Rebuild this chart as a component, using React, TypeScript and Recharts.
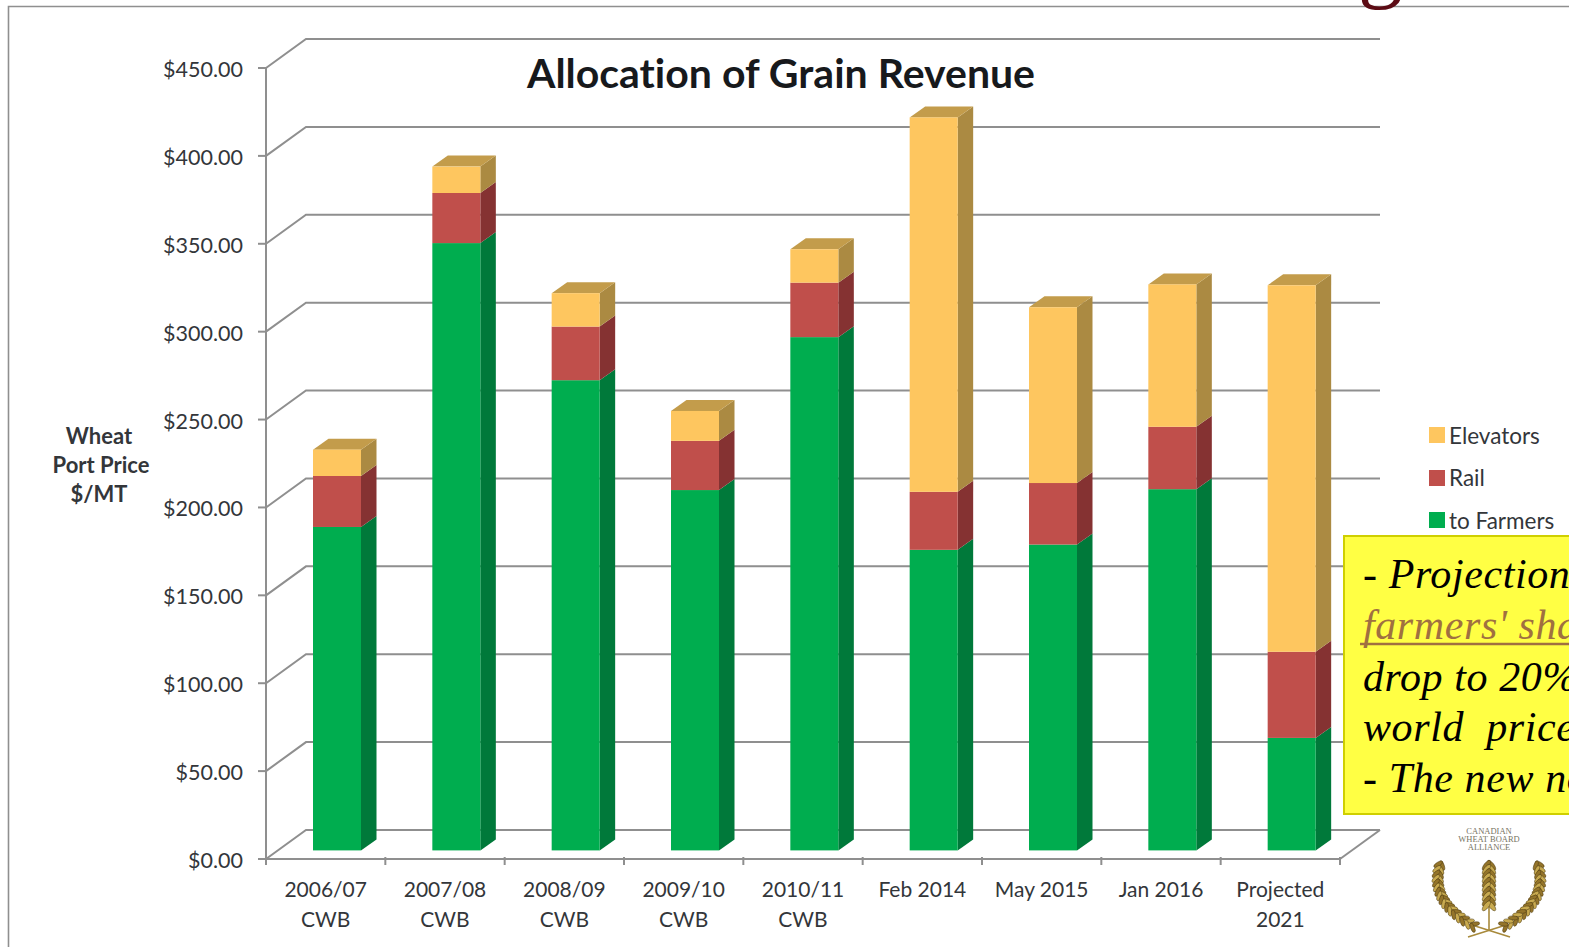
import React from "react";
import { BarChart, Bar, XAxis, YAxis, CartesianGrid, Legend } from "recharts";

// Allocation of wheat port price, dollars per tonne
const periods = [
  "2006/07|CWB",
  "2007/08|CWB",
  "2008/09|CWB",
  "2009/10|CWB",
  "2010/11|CWB",
  "Feb 2014",
  "May 2015",
  "Jan 2016",
  "Projected|2021",
];
const toFarmers = [184, 345.5, 267.5, 205, 292, 171, 174, 205.5, 64];
const rail = [29, 28.5, 30.5, 28, 31, 33, 35, 35.5, 49];
const elevators = [15, 15, 19, 17, 19, 213, 100, 81, 208.5];
const yTicks = [0, 50, 100, 150, 200, 250, 300, 350, 400, 450];

const rows = periods.map((period, i) => ({
  period,
  toFarmers: toFarmers[i],
  rail: rail[i],
  elevators: elevators[i],
}));

const WIDTH = 1569;
const HEIGHT = 947;
const PLOT_LEFT = 266;
const PLOT_RIGHT = 1340;
const WALL_DX = 40;
const WALL_DY = 29;
const BAR_SHIFT_X = 11;
const BAR_SHIFT_Y = 8.6;
const BAR_DEPTH_X = 15.5;
const BAR_DEPTH_Y = 11;
const FONT = "Lato, 'Noto Sans', sans-serif";
const AXIS_COLOR = "#8f8f8f";
const TEXT_COLOR = "#33363a";

type Face = { front: string; side: string; top?: string };

const greenFace: Face = { front: "#00ad4f", side: "#00793a" };
const redFace: Face = { front: "#c04f4b", side: "#853232" };
const yellowFace: Face = { front: "#fec65f", side: "#ab8a42", top: "#c39c4b" };

// Front face plus the extruded side, and a lid on the top segment
const makeBlock = (face: Face) => (props: any) => {
  const { x, y, width, height } = props;
  const l = x + BAR_SHIFT_X;
  const r = l + width;
  const t = y - BAR_SHIFT_Y;
  const b = t + height;
  const dx = BAR_DEPTH_X;
  const dy = BAR_DEPTH_Y;
  return (
    <g>
      <polygon
        points={`${r},${t} ${r + dx},${t - dy} ${r + dx},${b - dy} ${r},${b}`}
        fill={face.side}
      />
      {face.top && (
        <polygon
          points={`${l},${t} ${l + dx},${t - dy} ${r + dx},${t - dy} ${r},${t}`}
          fill={face.top}
        />
      )}
      <rect x={l} y={t} width={width} height={height} fill={face.front} />
    </g>
  );
};

// Gridline folded back along the side wall and across the rear wall
const wallLine = (props: any) => {
  const { x1, x2, y1, key } = props;
  const atFloor = Math.abs(y1 - (HEIGHT - 88)) < 1;
  return (
    <g key={key}>
      <path
        d={`M${x1},${y1} L${x1 + WALL_DX},${y1 - WALL_DY} L${x2 + WALL_DX},${y1 - WALL_DY}`}
        fill="none"
        stroke={AXIS_COLOR}
        strokeWidth={2}
      />
      {atFloor && (
        <path
          d={`M${x2},${y1} L${x2 + WALL_DX},${y1 - WALL_DY}`}
          fill="none"
          stroke={AXIS_COLOR}
          strokeWidth={2}
        />
      )}
    </g>
  );
};

const PeriodTick = (props: any) => {
  const { x, y, payload } = props;
  const band = (PLOT_RIGHT - PLOT_LEFT) / periods.length;
  const lines = String(payload.value).split("|");
  const isLast = payload.index === periods.length - 1;
  return (
    <g>
      <line x1={x - band / 2} x2={x - band / 2} y1={y - 8} y2={y} stroke={AXIS_COLOR} strokeWidth={2} />
      {isLast && (
        <line x1={x + band / 2} x2={x + band / 2} y1={y - 8} y2={y} stroke={AXIS_COLOR} strokeWidth={2} />
      )}
      {lines.map((line, i) => (
        <text
          key={line}
          x={x}
          y={y + 32 + i * 29.5}
          textAnchor="middle"
          fontFamily={FONT}
          fontSize={21}
          fill={TEXT_COLOR}
        >
          {line}
        </text>
      ))}
    </g>
  );
};

const PriceTick = (props: any) => {
  const { x, y, payload } = props;
  return (
    <text
      x={x}
      y={y + 9}
      textAnchor="end"
      fontFamily={FONT}
      fontSize={21.5}
      fill={TEXT_COLOR}
    >
      {`$${Number(payload.value).toFixed(2)}`}
    </text>
  );
};

const SeriesKey = (props: any) => {
  const entries = [...(props.payload ?? [])];
  return (
    <div>
      {entries.map((entry: any) => (
        <div
          key={entry.value}
          style={{
            display: "flex",
            alignItems: "center",
            height: 42.5,
            fontFamily: FONT,
            fontSize: 22.5,
            color: TEXT_COLOR,
          }}
        >
          <span style={{ width: 16, height: 16, marginRight: 4, background: entry.color }} />
          {entry.value}
        </div>
      ))}
    </div>
  );
};

// Small wheat-sheaf emblem: grains laid along a quadratic stalk
const stalk = (
  p0: [number, number],
  c: [number, number],
  p1: [number, number],
  grains: number,
  size: number
) => {
  const out: React.ReactNode[] = [];
  for (let i = 0; i < grains; i++) {
    const t = (i + 0.5) / grains;
    const u = 1 - t;
    const px = u * u * p0[0] + 2 * u * t * c[0] + t * t * p1[0];
    const py = u * u * p0[1] + 2 * u * t * c[1] + t * t * p1[1];
    const tx = 2 * u * (c[0] - p0[0]) + 2 * t * (p1[0] - c[0]);
    const ty = 2 * u * (c[1] - p0[1]) + 2 * t * (p1[1] - c[1]);
    const angle = (Math.atan2(ty, tx) * 180) / Math.PI;
    [-1, 1].forEach((side) => {
      out.push(
        <ellipse
          key={`${i}-${side}`}
          cx={px}
          cy={py}
          rx={size}
          ry={size * 0.4}
          fill={i % 2 ? "#c8aa50" : "#94742a"}
          stroke="#4c3a10"
          strokeWidth={0.5}
          transform={`rotate(${angle + side * 38} ${px} ${py}) translate(${size * 0.7} 0)`}
        />
      );
    });
  }
  return out;
};

const Emblem = () => (
  <g>
    <g fontFamily="'Liberation Serif', serif" fontSize={8.5} fill="#77745f" textAnchor="middle">
      <text x={1489} y={834}>CANADIAN</text>
      <text x={1489} y={842}>WHEAT BOARD</text>
      <text x={1489} y={850}>ALLIANCE</text>
    </g>
    <g fill="none" stroke="#a88a3c" strokeWidth={1.6}>
      <path d="M1489,900 L1489,930" />
      <path d="M1510,937 L1472,925" />
      <path d="M1468,937 L1506,925" />
    </g>
    {stalk([1489, 860], [1489, 880], [1489, 905], 10, 6)}
    {stalk([1442, 860], [1426, 900], [1474, 926], 17, 5)}
    {stalk([1536, 860], [1552, 900], [1504, 926], 17, 5)}
  </g>
);

const NOTE_LINES = [
  { text: "- Projections", y: 588, fill: "#000000" },
  { text: "farmers' share", y: 639, fill: "#a07040" },
  { text: "drop to 20%", y: 691, fill: "#000000" },
  { text: "world  prices", y: 741, fill: "#000000" },
  { text: "- The new no", y: 792, fill: "#000000" },
];

const SlideOverlay = () => (
  <svg
    width={WIDTH}
    height={HEIGHT}
    style={{ position: "absolute", left: 0, top: 0, pointerEvents: "none" }}
  >
    <path d={`M8.5,${HEIGHT} L8.5,6.5 L${WIDTH},6.5`} fill="none" stroke="#8f8f8f" strokeWidth={1.6} />
    <text x={1358} y={-9} fontFamily="'Liberation Serif', serif" fontSize={90} fill="#5c0b14">
      g
    </text>
    <rect x={1344} y={536} width={240} height={278} fill="#ffff44" stroke="#cfcf00" strokeWidth={2} />
    <g fontFamily="'Liberation Serif', serif" fontStyle="italic" fontSize={42} letterSpacing={0.6}>
      {NOTE_LINES.map((line) => (
        <text key={line.y} x={1363} y={line.y} fill={line.fill} xmlSpace="preserve">
          {line.text}
        </text>
      ))}
    </g>
    <line x1={1360} x2={WIDTH} y1={644} y2={644} stroke="#a07040" strokeWidth={2.5} />
    <Emblem />
  </svg>
);

export default function App() {
  return (
    <div
      style={{
        position: "fixed",
        left: 0,
        top: 0,
        width: WIDTH,
        height: HEIGHT,
        overflow: "hidden",
        background: "#ffffff",
      }}
    >
      <BarChart
        width={WIDTH}
        height={HEIGHT}
        data={rows}
        margin={{ top: 68, right: WIDTH - PLOT_RIGHT, bottom: 0, left: 0 }}
        barSize={48}
      >
        <CartesianGrid vertical={false} horizontal={wallLine} />
        <XAxis
          dataKey="period"
          height={88}
          interval={0}
          stroke={AXIS_COLOR}
          strokeWidth={2}
          tickLine={false}
          tick={PeriodTick}
          tickMargin={0}
        />
        <YAxis
          width={PLOT_LEFT}
          domain={[0, 450]}
          ticks={yTicks}
          interval={0}
          stroke={AXIS_COLOR}
          strokeWidth={2}
          tickSize={8}
          tickMargin={15}
          tick={PriceTick}
        />
        <Legend
          layout="vertical"
          align="center"
          verticalAlign="middle"
          content={SeriesKey}
          wrapperStyle={{ left: 1429, top: 414, width: 140, bottom: "auto" }}
        />
        <Bar
          dataKey="toFarmers"
          name="to Farmers"
          stackId="price"
          fill={greenFace.front}
          shape={makeBlock(greenFace)}
          isAnimationActive={false}
        />
        <Bar
          dataKey="rail"
          name="Rail"
          stackId="price"
          fill={redFace.front}
          shape={makeBlock(redFace)}
          isAnimationActive={false}
        />
        <Bar
          dataKey="elevators"
          name="Elevators"
          stackId="price"
          fill={yellowFace.front}
          shape={makeBlock(yellowFace)}
          isAnimationActive={false}
        />
        <text
          x={781}
          y={88}
          textAnchor="middle"
          fontFamily={FONT}
          fontWeight={700}
          fontSize={41}
          fill="#17191c"
          style={{ fontVariantLigatures: "none" }}
        >
          Allocation of Grain Revenue
        </text>
        <g fontFamily={FONT} fontWeight={700} fontSize={22} fill={TEXT_COLOR} textAnchor="middle">
          <text x={99} y={444}>Wheat</text>
          <text x={101} y={473}>Port Price</text>
          <text x={99} y={502}>$/MT</text>
        </g>
      </BarChart>
      <SlideOverlay />
    </div>
  );
}
